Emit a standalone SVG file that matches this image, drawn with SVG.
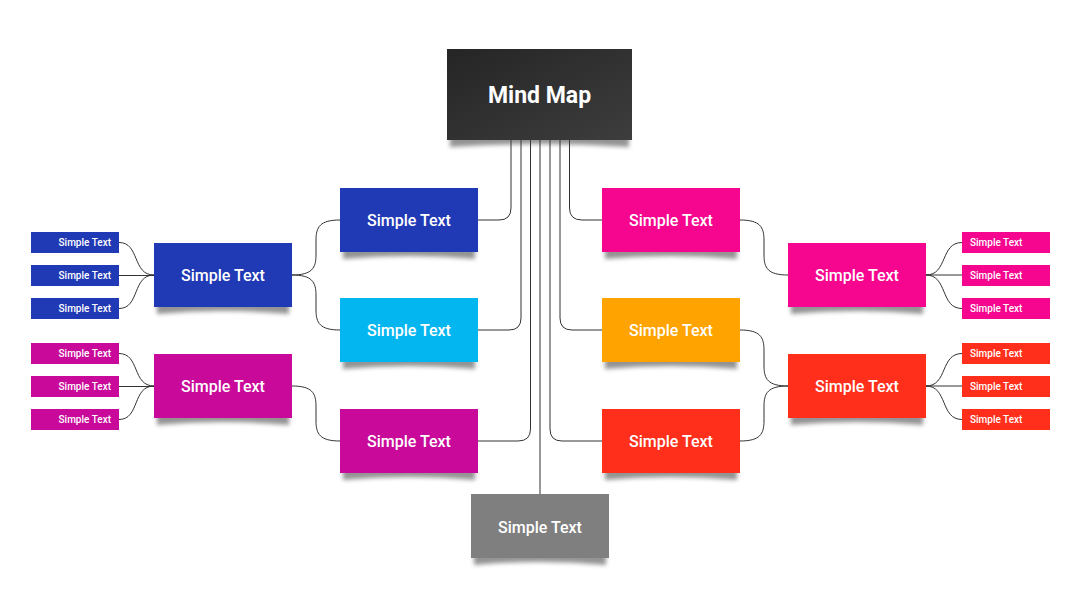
<svg xmlns="http://www.w3.org/2000/svg" width="1080" height="608" viewBox="0 0 1080 608">
<defs>
<linearGradient id="gDark" x1="0" y1="0" x2="1" y2="1">
<stop offset="0" stop-color="#252525"/>
<stop offset="1" stop-color="#3d3d3d"/>
</linearGradient>
<filter id="blur" x="-10%" y="-50%" width="120%" height="200%">
<feGaussianBlur stdDeviation="2.2"/>
</filter>
</defs>
<style>
.shadow{fill:#3a3a3a;opacity:0.55;filter:url(#blur)}
.lt{fill:#fff;font-family:Roboto,"Liberation Sans",sans-serif;font-weight:500;font-size:16px;text-anchor:middle}
.st{fill:#fff;font-family:Roboto,"Liberation Sans",sans-serif;font-weight:500;font-size:10px}
.conn path{fill:none;stroke:#333;stroke-width:1}
.blue{fill:#2039b5}.cyan{fill:#03b6ef}.mag{fill:#c9099a}.pink{fill:#f6058f}.orange{fill:#ffa300}.red{fill:#ff2f1b}.gray{fill:#7f7f7f}
</style>
<rect width="1080" height="608" fill="#fff"/>

<g id="connectors" class="conn">
<path d="M511,140 V208 Q511,220 499,220 H478"/>
<path d="M521,140 V318 Q521,330 509,330 H478"/>
<path d="M530.5,140 V429 Q530.5,441 518,441 H478"/>
<path d="M540,140 V494"/>
<path d="M550,140 V429 Q550,441 562,441 H602"/>
<path d="M560,140 V318 Q560,330 572,330 H602"/>
<path d="M569.5,140 V208 Q569.5,220 582,220 H602"/>
<path d="M292,275 C312,275 316,268 316,255 V240 C316,227 320,220 340,220"/>
<path d="M292,275 C312,275 316,282 316,295 V310 C316,323 320,330 340,330"/>
<path d="M292,386 C312,386 316,393 316,406 V421 C316,434 320,441 340,441"/>
<path d="M740,220 C760,220 764,227 764,240 V255 C764,268 768,275 788,275"/>
<path d="M740,330 C760,330 764,337 764,350 V366 C764,379 768,386 788,386"/>
<path d="M740,441 C760,441 764,434 764,421 V406 C764,393 768,386 788,386"/>
<path d="M119,242.5 C140,242.5 132,275 154,275"/>
<path d="M119,275.5 H154"/>
<path d="M119,308.5 C140,308.5 132,275 154,275"/>
<path d="M119,353.5 C140,353.5 132,386 154,386"/>
<path d="M119,386.5 H154"/>
<path d="M119,419.5 C140,419.5 132,386 154,386"/>
<path d="M926,275 C948,275 940,242.5 962,242.5"/>
<path d="M926,275 H962"/>
<path d="M926,275 C948,275 940,308.5 962,308.5"/>
<path d="M926,386 C948,386 940,353.5 962,353.5"/>
<path d="M926,386 H962"/>
<path d="M926,386 C948,386 940,419.5 962,419.5"/>
</g>

<g id="center">
<path class="shadow" d="M450,135 H629 V147 Q539.5,141 450,147 Z"/>
<rect x="447" y="49" width="185" height="91" fill="url(#gDark)"/>
<text x="539.5" y="103" fill="#fff" font-family="Roboto,'Liberation Sans',sans-serif" font-weight="700" font-size="23" text-anchor="middle">Mind Map</text>
</g>

<g id="n-blue-top">
<path class="shadow" d="M343,247 H475 V259 Q409,253 343,259 Z"/>
<rect class="blue" x="340" y="188" width="138" height="64"/>
<text class="lt" x="409" y="225.5">Simple Text</text>
</g>
<g id="n-cyan">
<path class="shadow" d="M343,357 H475 V369 Q409,363 343,369 Z"/>
<rect class="cyan" x="340" y="298" width="138" height="64"/>
<text class="lt" x="409" y="335.5">Simple Text</text>
</g>
<g id="n-mag-bottom">
<path class="shadow" d="M343,468 H475 V480 Q409,474 343,480 Z"/>
<rect class="mag" x="340" y="409" width="138" height="64"/>
<text class="lt" x="409" y="446.5">Simple Text</text>
</g>
<g id="n-pink-top">
<path class="shadow" d="M605,247 H737 V259 Q671,253 605,259 Z"/>
<rect class="pink" x="602" y="188" width="138" height="64"/>
<text class="lt" x="671" y="225.5">Simple Text</text>
</g>
<g id="n-orange">
<path class="shadow" d="M605,357 H737 V369 Q671,363 605,369 Z"/>
<rect class="orange" x="602" y="298" width="138" height="64"/>
<text class="lt" x="671" y="335.5">Simple Text</text>
</g>
<g id="n-red-bottom">
<path class="shadow" d="M605,468 H737 V480 Q671,474 605,480 Z"/>
<rect class="red" x="602" y="409" width="138" height="64"/>
<text class="lt" x="671" y="446.5">Simple Text</text>
</g>
<g id="n-gray">
<path class="shadow" d="M474,553 H606 V565 Q540,559 474,565 Z"/>
<rect class="gray" x="471" y="494" width="138" height="64"/>
<text class="lt" x="540" y="532.5">Simple Text</text>
</g>

<g id="n-blue-left">
<path class="shadow" d="M157,302 H289 V314 Q223,308 157,314 Z"/>
<rect class="blue" x="154" y="243" width="138" height="64"/>
<text class="lt" x="223" y="280.5">Simple Text</text>
</g>
<g id="n-mag-left">
<path class="shadow" d="M157,413 H289 V425 Q223,419 157,425 Z"/>
<rect class="mag" x="154" y="354" width="138" height="64"/>
<text class="lt" x="223" y="391.5">Simple Text</text>
</g>
<g id="n-pink-right">
<path class="shadow" d="M791,302 H923 V314 Q857,308 791,314 Z"/>
<rect class="pink" x="788" y="243" width="138" height="64"/>
<text class="lt" x="857" y="280.5">Simple Text</text>
</g>
<g id="n-red-right">
<path class="shadow" d="M791,413 H923 V425 Q857,419 791,425 Z"/>
<rect class="red" x="788" y="354" width="138" height="64"/>
<text class="lt" x="857" y="391.5">Simple Text</text>
</g>

<g id="leaf-b1"><rect class="blue" x="31" y="232" width="88" height="21"/><text class="st" x="111" y="246" text-anchor="end">Simple Text</text></g>
<g id="leaf-b2"><rect class="blue" x="31" y="265" width="88" height="21"/><text class="st" x="111" y="279" text-anchor="end">Simple Text</text></g>
<g id="leaf-b3"><rect class="blue" x="31" y="298" width="88" height="21"/><text class="st" x="111" y="312" text-anchor="end">Simple Text</text></g>
<g id="leaf-m1"><rect class="mag" x="31" y="343" width="88" height="21"/><text class="st" x="111" y="357" text-anchor="end">Simple Text</text></g>
<g id="leaf-m2"><rect class="mag" x="31" y="376" width="88" height="21"/><text class="st" x="111" y="390" text-anchor="end">Simple Text</text></g>
<g id="leaf-m3"><rect class="mag" x="31" y="409" width="88" height="21"/><text class="st" x="111" y="423" text-anchor="end">Simple Text</text></g>
<g id="leaf-p1"><rect class="pink" x="962" y="232" width="88" height="21"/><text class="st" x="970" y="246">Simple Text</text></g>
<g id="leaf-p2"><rect class="pink" x="962" y="265" width="88" height="21"/><text class="st" x="970" y="279">Simple Text</text></g>
<g id="leaf-p3"><rect class="pink" x="962" y="298" width="88" height="21"/><text class="st" x="970" y="312">Simple Text</text></g>
<g id="leaf-r1"><rect class="red" x="962" y="343" width="88" height="21"/><text class="st" x="970" y="357">Simple Text</text></g>
<g id="leaf-r2"><rect class="red" x="962" y="376" width="88" height="21"/><text class="st" x="970" y="390">Simple Text</text></g>
<g id="leaf-r3"><rect class="red" x="962" y="409" width="88" height="21"/><text class="st" x="970" y="423">Simple Text</text></g>
</svg>
